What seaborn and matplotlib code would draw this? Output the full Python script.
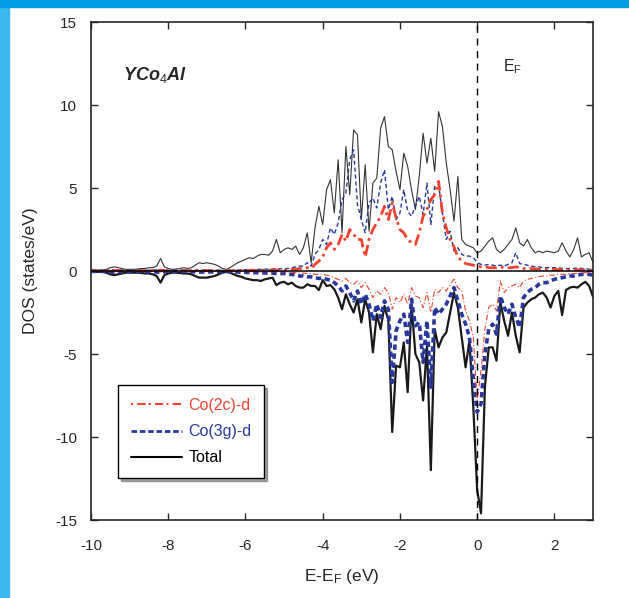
import numpy as np
import pandas as pd
import matplotlib
matplotlib.use("Agg")
import matplotlib.pyplot as plt
from matplotlib.lines import Line2D
from matplotlib.patches import Rectangle
import seaborn as sns

# --- DATA (DOS, states/eV), energy grid E-EF from -10 to 3 eV, step 0.1 ---
energy = np.round(np.arange(-10.0, 3.05, 0.1), 1)

total_up = [
    0.05, 0.05, 0.05, 0.05, 0.1, 0.2, 0.25, 0.2, 0.15, 0.1,
    0.1, 0.1, 0.12, 0.15, 0.15, 0.2, 0.2, 0.3, 0.75, 0.25,
    0.15, 0.1, 0.12, 0.15, 0.2, 0.15, 0.2, 0.35, 0.5, 0.45,
    0.5, 0.45, 0.4, 0.3, 0.15, 0.1, 0.2, 0.35, 0.5, 0.6,
    0.7, 0.8, 0.75, 0.9, 1.0, 1.0, 0.95, 1.2, 1.9, 1.1,
    1.3, 1.4, 1.3, 1.5, 1.0, 1.4, 2.3, 0.5, 2.6, 3.9,
    2.8, 4.9, 5.5, 3.5, 6.7, 2.3, 7.5, 4.6, 8.5, 8.2,
    3.1, 6.4, 2.4, 5.3, 5.6, 8.6, 9.3, 7.5, 7.3, 6.0,
    4.9, 7.1, 6.3, 4.9, 3.7, 5.7, 8.3, 6.5, 8.0, 6.0,
    9.6, 8.7, 6.5, 4.9, 3.0, 5.7, 1.9, 1.6, 1.5, 1.4,
    1.1, 1.2, 1.5, 1.8, 2.0, 1.3, 1.1, 1.3, 1.6, 1.9,
    2.6, 1.7, 1.5, 1.9, 1.4, 1.1, 1.2, 1.1, 1.2, 1.15,
    1.1, 1.2, 1.7, 1.2, 0.85, 1.3, 2.0, 0.85, 1.0, 1.1,
    0.5,
]
co3g_up = [
    0.02, 0.02, 0.02, 0.02, 0.03, 0.05, 0.08, 0.05, 0.03, 0.02,
    0.02, 0.02, 0.03, 0.03, 0.04, 0.05, 0.05, 0.06, 0.1, 0.05,
    0.03, 0.02, 0.02, 0.03, 0.03, 0.03, 0.04, 0.05, 0.06, 0.06,
    0.06, 0.05, 0.05, 0.04, 0.03, 0.03, 0.04, 0.05, 0.06, 0.07,
    0.08, 0.09, 0.09, 0.1, 0.1, 0.11, 0.11, 0.12, 0.15, 0.13,
    0.15, 0.15, 0.2, 0.25, 0.3, 0.3, 0.5, 0.3, 1.0, 1.3,
    1.9, 1.6, 2.6, 2.2, 2.9, 4.3, 4.7, 6.7, 7.3, 4.0,
    3.1, 2.3, 4.1, 4.4, 3.8, 5.3, 6.1, 3.7, 4.5, 3.1,
    3.5, 4.9, 3.6, 3.3, 3.9, 4.5, 3.4, 5.3, 2.8, 5.1,
    5.2, 3.5, 1.9, 2.4, 1.2, 1.4, 1.0, 0.9, 0.9, 0.8,
    0.5, 0.4, 0.35, 0.4, 0.35, 0.3, 0.35, 0.3, 0.4, 0.5,
    1.1, 0.45, 0.4, 0.35, 0.3, 0.25, 0.25, 0.2, 0.2, 0.2,
    0.2, 0.2, 0.15, 0.15, 0.15, 0.15, 0.2, 0.15, 0.15, 0.1,
    0.1,
]
co2c_up = [
    0.01, 0.01, 0.01, 0.01, 0.01, 0.03, 0.04, 0.03, 0.02, 0.01,
    0.01, 0.01, 0.01, 0.02, 0.02, 0.02, 0.03, 0.03, 0.05, 0.03,
    0.02, 0.01, 0.01, 0.01, 0.02, 0.02, 0.02, 0.03, 0.03, 0.03,
    0.03, 0.03, 0.02, 0.02, 0.01, 0.01, 0.02, 0.02, 0.03, 0.03,
    0.03, 0.04, 0.04, 0.04, 0.05, 0.05, 0.05, 0.05, 0.06, 0.05,
    0.05, 0.05, 0.1, 0.1, 0.15, 0.15, 0.2, 0.15, 0.4, 0.6,
    0.85, 1.4, 1.7, 1.3, 1.6, 2.2, 1.8, 2.5, 2.2, 1.9,
    1.9, 0.85, 1.9, 2.5, 2.9, 3.3, 3.9, 3.1, 4.1, 3.2,
    2.5, 2.3, 1.9, 1.7, 1.6, 2.3, 3.3, 3.7, 4.3, 4.6,
    5.4, 3.5, 2.6, 1.9, 1.45, 0.85, 0.6, 0.45, 0.4, 0.35,
    0.3, 0.25, 0.25, 0.2, 0.2, 0.2, 0.25, 0.2, 0.2, 0.2,
    0.25, 0.2, 0.15, 0.15, 0.15, 0.12, 0.12, 0.1, 0.1, 0.1,
    0.1, 0.08, 0.08, 0.08, 0.07, 0.07, 0.07, 0.06, 0.06, 0.05,
    0.05,
]
total_dn = [
    -0.05, -0.05, -0.05, -0.05, -0.1, -0.2, -0.25, -0.2, -0.15, -0.1,
    -0.1, -0.1, -0.1, -0.12, -0.15, -0.15, -0.2, -0.3, -0.7, -0.25,
    -0.15, -0.1, -0.1, -0.12, -0.15, -0.15, -0.2, -0.3, -0.4, -0.4,
    -0.4, -0.35, -0.3, -0.2, -0.1, -0.05, -0.1, -0.2, -0.3, -0.35,
    -0.45, -0.5, -0.55, -0.55, -0.6, -0.5, -0.45, -0.4, -0.85, -0.7,
    -0.65, -0.8, -0.7, -0.9, -1.0, -1.0, -0.8, -0.9, -0.9, -1.15,
    -0.55, -0.9, -0.85, -1.1, -1.6, -2.3, -1.4, -2.0, -2.5, -1.7,
    -3.1, -1.7, -2.5, -4.9, -2.6, -3.5, -2.1, -3.0, -9.7, -5.7,
    -5.8, -4.3, -7.3, -2.0, -5.0, -5.5, -7.8, -4.5, -12.0, -3.5,
    -4.6, -4.0, -3.7, -2.5, -1.3, -2.2, -4.0, -5.8, -4.2, -8.2,
    -13.2, -14.6, -7.0, -4.6, -4.6, -5.4, -1.9, -3.0, -3.9, -2.5,
    -3.9, -4.9, -2.2, -1.9, -1.7, -1.6, -1.4, -1.3, -1.6, -2.2,
    -1.5, -1.2, -2.65, -1.15, -1.0, -0.95, -1.0, -0.8, -0.65, -0.9,
    -1.55,
]
co3g_dn = [
    -0.02, -0.02, -0.02, -0.02, -0.03, -0.05, -0.08, -0.05, -0.03, -0.02,
    -0.02, -0.02, -0.03, -0.03, -0.04, -0.05, -0.05, -0.06, -0.1, -0.05,
    -0.03, -0.02, -0.02, -0.03, -0.03, -0.03, -0.04, -0.05, -0.06, -0.06,
    -0.06, -0.05, -0.05, -0.04, -0.03, -0.03, -0.04, -0.05, -0.06, -0.07,
    -0.08, -0.09, -0.1, -0.1, -0.11, -0.12, -0.12, -0.13, -0.15, -0.15,
    -0.15, -0.2, -0.2, -0.25, -0.3, -0.3, -0.35, -0.35, -0.4, -0.45,
    -0.4, -0.5, -0.55, -0.7, -0.9, -1.2, -0.9, -1.3, -1.8, -1.2,
    -2.0, -1.4, -2.0, -3.0, -2.0, -2.8, -1.8, -2.3, -6.7, -3.6,
    -3.0, -2.6, -4.3, -1.7, -3.3, -3.1, -5.5, -3.0, -7.0, -2.2,
    -2.6, -2.3, -2.0, -1.5, -1.0, -1.8, -2.6, -3.2, -4.0, -6.5,
    -8.5, -8.0, -5.0, -3.5, -3.2, -3.8, -1.5, -2.2, -2.6, -2.0,
    -2.8, -3.4, -1.6, -1.3, -1.1, -1.0, -0.8, -0.7, -0.7, -0.6,
    -0.5, -0.45, -0.4, -0.35, -0.3, -0.3, -0.25, -0.2, -0.2, -0.2,
    -0.25,
]
co2c_dn = [
    -0.01, -0.01, -0.01, -0.01, -0.01, -0.03, -0.04, -0.03, -0.02, -0.01,
    -0.01, -0.01, -0.01, -0.02, -0.02, -0.02, -0.03, -0.03, -0.05, -0.03,
    -0.02, -0.01, -0.01, -0.01, -0.02, -0.02, -0.02, -0.03, -0.03, -0.03,
    -0.03, -0.03, -0.02, -0.02, -0.01, -0.01, -0.02, -0.02, -0.03, -0.03,
    -0.03, -0.04, -0.04, -0.04, -0.05, -0.05, -0.05, -0.05, -0.06, -0.05,
    -0.05, -0.06, -0.08, -0.1, -0.12, -0.12, -0.15, -0.15, -0.2, -0.2,
    -0.2, -0.25, -0.3, -0.4, -0.5, -0.6, -0.45, -0.7, -0.8, -0.6,
    -1.0, -0.7, -1.1, -1.6, -1.2, -1.4, -1.0, -1.3, -2.3, -1.6,
    -1.9, -1.4, -2.0, -1.0, -1.5, -1.6, -2.2, -1.3, -2.5, -1.1,
    -1.3, -1.0, -1.2, -0.8, -0.5, -1.0, -1.2, -2.4, -3.0, -4.0,
    -7.8, -6.0, -3.5, -2.2, -2.0, -2.4, -0.6, -1.3, -1.0, -0.9,
    -0.8, -1.0, -0.6, -0.5, -0.45, -0.4, -0.35, -0.3, -0.3, -0.25,
    -0.25, -0.2, -0.2, -0.2, -0.15, -0.15, -0.15, -0.1, -0.1, -0.1,
    -0.15,
]

df = pd.DataFrame({
    "E": energy,
    "total_up": total_up, "co3g_up": co3g_up, "co2c_up": co2c_up,
    "total_dn": total_dn, "co3g_dn": co3g_dn, "co2c_dn": co2c_dn,
})

RED = "#f0422f"
BLUE = "#26389a"

# --- STYLE ---
sns.set_style("ticks")
plt.rcParams['font.family'] = ['Liberation Sans', 'DejaVu Sans']
plt.rcParams['axes.unicode_minus'] = False
plt.rcParams['mathtext.fontset'] = 'custom'
plt.rcParams['mathtext.rm'] = 'Liberation Sans'
plt.rcParams['mathtext.it'] = 'Liberation Sans:italic:bold'
plt.rcParams['mathtext.bf'] = 'Liberation Sans:bold'

fig = plt.figure(figsize=(6.29, 5.98), dpi=100)
ax = fig.add_axes([0.1447, 0.1304, 0.7981, 0.8328])

# blue page decoration (left and top strips)
fig.patches.append(Rectangle((0, 0), 9 / 629, 1, transform=fig.transFigure,
                             color="#38b8ef", zorder=0))
fig.patches.append(Rectangle((0, 1 - 7 / 598), 1, 7 / 598, transform=fig.transFigure,
                             color="#00a0e4", zorder=0))

# spin up
sns.lineplot(data=df, x="E", y="total_up", ax=ax, color="#333333", lw=0.8,
             estimator=None, legend=False)
sns.lineplot(data=df, x="E", y="co3g_up", ax=ax, color=BLUE, lw=1.0,
             linestyle=(0, (3, 2)), estimator=None, legend=False)
sns.lineplot(data=df, x="E", y="co2c_up", ax=ax, color=RED, lw=2.0,
             linestyle=(0, (4, 1.5, 1, 1.5)), estimator=None, legend=False)
# spin down
sns.lineplot(data=df, x="E", y="total_dn", ax=ax, color="#1a1a1a", lw=1.6,
             estimator=None, legend=False)
sns.lineplot(data=df, x="E", y="co3g_dn", ax=ax, color=BLUE, lw=2.6,
             linestyle=(0, (1.5, 1)), estimator=None, legend=False)
sns.lineplot(data=df, x="E", y="co2c_dn", ax=ax, color=RED, lw=0.8,
             linestyle=(0, (5, 2, 1, 2)), estimator=None, legend=False)

ax.axhline(0, color="black", lw=1.1, zorder=5)
ax.axvline(0, color="black", lw=1.0, linestyle=(0, (5, 4)), zorder=5)

ax.set_xlim(-10, 3)
ax.set_ylim(-15, 15)
ax.set_xticks([-10, -8, -6, -4, -2, 0, 2])
ax.set_yticks([-15, -10, -5, 0, 5, 10, 15])
ax.tick_params(direction="in", top=True, right=True, length=5, width=1,
               labelsize=11)
ax.tick_params(axis="x", pad=14)
ax.tick_params(axis="y", pad=10)
for s in ax.spines.values():
    s.set_linewidth(1.2)
    s.set_visible(True)

ax.set_xlabel(r"E-E$_{\rm F}$ (eV)", fontsize=12.5, labelpad=10)
ax.set_ylabel("DOS (states/eV)", fontsize=12.5, labelpad=12)

ax.text(-9.17, 11.8, r"YCo$_4$Al", fontsize=13, fontweight="bold",
        style="italic", va="center", ha="left")
ax.text(0.68, 12.3, r"E$_{\rm F}$", fontsize=11.5, va="center", ha="left")

handles = [
    Line2D([], [], color=RED, lw=1.5, linestyle=(0, (1, 2, 4, 1.5))),
    Line2D([], [], color=BLUE, lw=2.0, linestyle=(0, (2, 1))),
    Line2D([], [], color="black", lw=1.5),
]
leg = ax.legend(handles, ["Co(2c)-d", "Co(3g)-d", "Total"], loc="lower left",
                bbox_to_anchor=(0.054, 0.084), borderaxespad=0, fontsize=11.5,
                frameon=True, fancybox=False, shadow=True, handlelength=3.2,
                borderpad=0.8, labelspacing=0.7, handletextpad=0.4)
leg.get_frame().set_edgecolor("black")
leg.get_frame().set_linewidth(1.0)
for txt, c in zip(leg.get_texts(), [RED, BLUE, "black"]):
    txt.set_color(c)

fig.savefig("out.png", dpi=100)
